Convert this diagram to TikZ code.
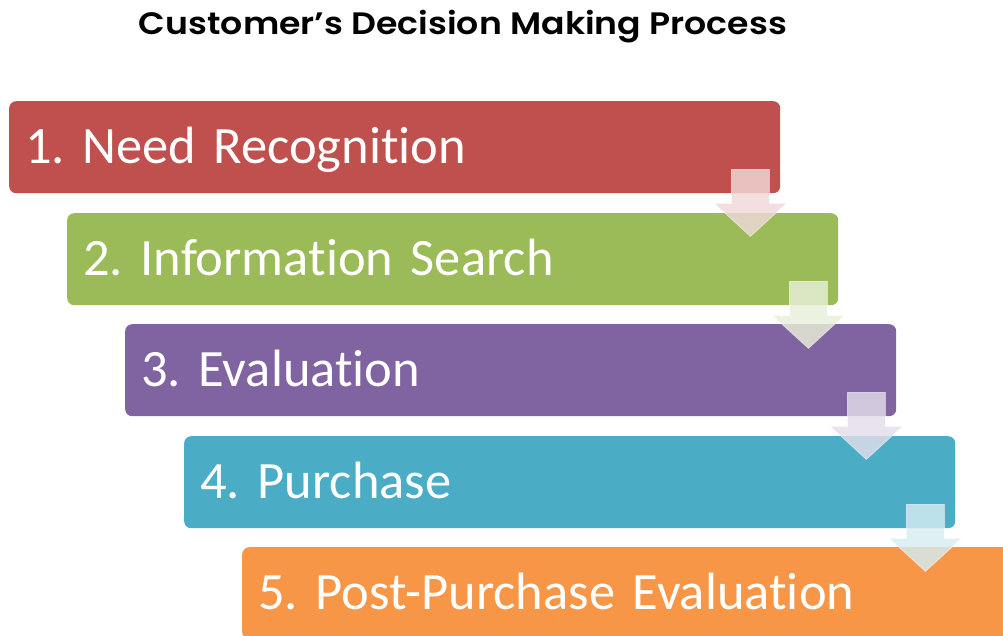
\documentclass[tikz,border=0pt]{standalone}
\usepackage{fontspec}
\setmainfont{Carlito}[RawFeature={-liga}]
\newfontfamily\titlefont{Poppins}[UprightFont=* SemiBold]
\usetikzlibrary{calc}
\definecolor{stepred}{HTML}{C0504D}
\definecolor{stepgreen}{HTML}{9BBB59}
\definecolor{steppurple}{HTML}{8064A2}
\definecolor{stepteal}{HTML}{4BACC6}
\definecolor{steporange}{HTML}{F79646}
\tikzset{
  stepbox/.style={fill=#1, draw=none, rounded corners=7pt, anchor=north west,
    minimum width=771pt, minimum height=92pt, text width=739pt, inner xsep=16pt,
    inner ysep=0pt, text height=40pt, text depth=8pt, align=left, text=white,
    font=\frenchspacing\fontsize{52.5}{60}\selectfont},
  flowarrow/.style={fill=#1!22!white, fill opacity=0.82, draw=white, draw opacity=0.5, line width=0.8pt}
}
\newcommand{\downarrowat}[2]{%
  \path[flowarrow=#2, shift={(#1)}] (-19,0) -- (19,0) -- (19,34) -- (36,34) -- (0,67)
     -- (-36,34) -- (-19,34) -- cycle;}
\begin{document}
\begin{tikzpicture}[x=1pt, y=-1pt]
  \useasboundingbox (0,0) rectangle (1003,635);
  \clip (0,0) rectangle (1003,635);
  \fill[white] (0,0) rectangle (1003,635);
  \node[font=\titlefont\fontsize{31}{34}\selectfont, anchor=center, inner sep=0pt] (title) at (463,27)
    {\resizebox{648pt}{\height}{Customer’s Decision Making Process}};
  \node[stepbox=stepred]    (b1) at (9,101)   {1. Need Recognition};
  \node[stepbox=stepgreen]  (b2) at (67,213)  {2. Information Search};
  \node[stepbox=steppurple] (b3) at (125,324) {3. Evaluation};
  \node[stepbox=stepteal]   (b4) at (184,436) {4. Purchase};
  \node[stepbox=steporange] (b5) at (242,547) {5. Post-Purchase Evaluation};
  % translucent block arrows between consecutive steps
  \coordinate (a1) at ($(b1.south east)+(-30,-24)$);
  \coordinate (a2) at ($(b2.south east)+(-30,-24)$);
  \coordinate (a3) at ($(b3.south east)+(-30,-24)$);
  \coordinate (a4) at ($(b4.south east)+(-30,-24)$);
  \downarrowat{a1}{stepred}
  \downarrowat{a2}{stepgreen}
  \downarrowat{a3}{steppurple}
  \downarrowat{a4}{stepteal}
\end{tikzpicture}
\end{document}
